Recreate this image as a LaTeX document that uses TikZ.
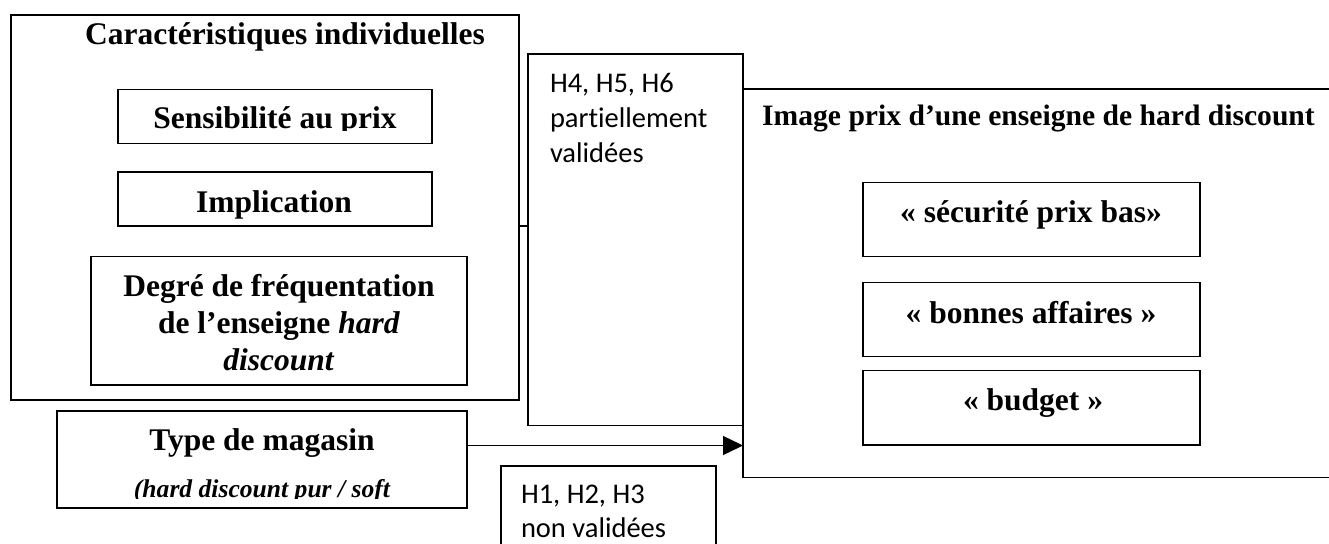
\documentclass[tikz,border=0pt]{standalone}
\usepackage{fontspec}
\usetikzlibrary{arrows.meta}
\newfontfamily\tnr{Liberation Serif}
\newfontfamily\calfont[Ligatures={NoCommon,NoRare,NoDiscretionary}]{Carlito}
\tikzset{
  box/.style={draw, line width=1.4pt, anchor=north west, inner sep=0pt, outer sep=0pt},
  lbl/.style={anchor=base, inner sep=0pt, outer sep=0pt},
  big/.style={lbl, font=\tnr\bfseries\fontsize{31.5}{38}\selectfont},
  head/.style={lbl, font=\tnr\bfseries\fontsize{29.6}{34}\selectfont},
  hyp/.style={lbl, anchor=base west, font=\calfont\fontsize{28.5}{35}\selectfont},
  link/.style={line width=1.4pt}
}
\begin{document}
\begin{tikzpicture}[x=1pt, y=-1pt]
\useasboundingbox (0,0) rectangle (1329,543);
\clip (0,0) rectangle (1329,543);

% individual characteristics
\node[box, minimum width=508, minimum height=385] (caract) at (11,15) {};
\node[big] (caractT) at (285,45) {Caractéristiques individuelles};
\node[box, minimum width=314, minimum height=54] (sens) at (118,89.3) {};
\begin{scope}
  \clip (118,89.3) rectangle (432,130.7);
  \node[big] (sensT) at (275,128.3) {Sensibilité au prix};
\end{scope}
\node[box, minimum width=314, minimum height=54] (impl) at (118,172) {};
\node[big] (implT) at (274,212) {Implication};
\node[box, minimum width=376, minimum height=128.3] (degre) at (91,256.7) {};
\node[big] (degreA) at (279,296.7) {Degré de fréquentation};
\node[big] (degreB) at (279,333.3) {de l’enseigne \textit{hard}};
\node[big] (degreC) at (279,370) {\textit{discount}};

% store type
\node[box, minimum width=410, minimum height=97] (type) at (57,411) {};
\node[big] (typeT) at (262,450) {Type de magasin};
\begin{scope}
  \clip (57,411) rectangle (467,498);
  \node[lbl, font=\tnr\bfseries\itshape\fontsize{25.6}{30}\selectfont] (typeS) at (262,497) {(hard discount pur / soft};
\end{scope}

% hypotheses H4-H6
\node[box, minimum width=215, minimum height=371.5] (h4) at (528,54) {};
\node[hyp] (h4a) at (550,92) {H4, H5, H6};
\node[hyp] (h4b) at (550,127) {partiellement};
\node[hyp] (h4c) at (550,162) {validées};

% price image
\node[box, minimum width=700, minimum height=388.5] (imgbox) at (743,89) {};
\node[head] (imgT) at (1038.5,125) {Image prix d’une enseigne de hard discount};
\node[box, minimum width=337, minimum height=74] (secu) at (863,182.7) {};
\node[big] (secuT) at (1031,222) {« sécurité prix bas»};
\node[box, minimum width=337, minimum height=74] (bonnes) at (863,282.7) {};
\node[big] (bonnesT) at (1031,323) {« bonnes affaires »};
\node[box, minimum width=337, minimum height=74.3] (budget) at (863,370.7) {};
\node[big] (budgetT) at (1033,410) {« budget »};

% hypotheses H1-H3
\node[box, minimum width=215, minimum height=120] (h1) at (501,466) {};
\node[hyp] (h1a) at (521,503) {H1, H2, H3};
\node[hyp] (h1b) at (521,537) {non validées};

% connectors
\coordinate (linky) at (0,226);
\draw[link] (caract.east |- linky) -- (h4.west |- linky);
\coordinate (arrowy) at (0,445.5);
\draw[link, -{Triangle[length=20pt, width=19pt]}] (type.east |- arrowy) -- (imgbox.west |- arrowy);
\end{tikzpicture}
\end{document}
